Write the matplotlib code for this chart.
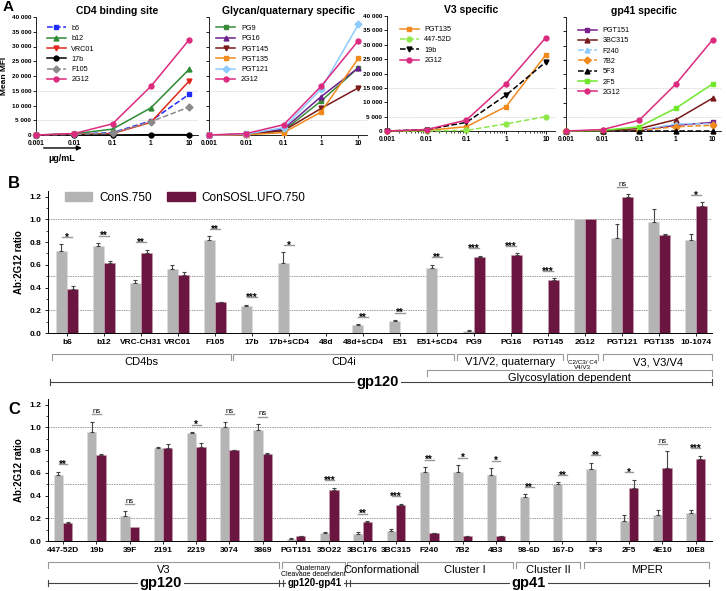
import matplotlib
matplotlib.use('Agg')
import matplotlib.pyplot as plt
import numpy as np
from matplotlib.patches import Patch
from matplotlib.transforms import blended_transform_factory

plt.rcParams['font.family'] = ['Liberation Sans', 'DejaVu Sans']

W, H = 726, 591

# ---------------- panel A data (mean MFI) ----------------
conc = [0.001, 0.01, 0.1, 1, 10]

cd4_names = ['b6', 'b12', 'VRC01', '17b', 'F105', '2G12']
cd4_vals = [[0, 300, 800, 4800, 13800],
            [0, 400, 2000, 9200, 22300],
            [0, 200, 500, 4300, 18300],
            [0, 0, 0, 100, 100],
            [0, 200, 600, 4500, 9500],
            [0, 500, 3800, 16500, 32300]]

gly_names = ['PG9', 'PG16', 'PGT145', 'PGT135', 'PGT121', '2G12']
gly_vals = [[0, 100, 1500, 11500, 22800],
            [0, 200, 2000, 13000, 22800],
            [0, 200, 1500, 9000, 16000],
            [0, 100, 800, 7800, 26000],
            [0, 300, 2500, 15500, 37500],
            [0, 500, 3500, 16500, 32000]]

v3_names = ['PGT135', '447-52D', '19b', '2G12']
v3_vals = [[0, 200, 1500, 8500, 26500],
           [0, 0, 200, 2500, 5000],
           [0, 500, 3000, 12500, 24000],
           [0, 500, 3800, 16500, 32500]]

gp41_names = ['PGT151', '3BC315', 'F240', '7B2', '5F3', '2F5', '2G12']
gp41_vals = [[0, 100, 200, 2000, 3000],
             [0, 200, 800, 4000, 11500],
             [0, 0, 200, 2500, 2500],
             [0, 0, 200, 1500, 2000],
             [0, 0, 0, 0, 0],
             [0, 200, 1500, 8000, 16500],
             [0, 500, 3800, 16500, 32000]]

# ---------------- panel B data ----------------
b_labels = ['b6', 'b12', 'VRC-CH31', 'VRC01', 'F105', '17b', '17b+sCD4', '48d',
            '48d+sCD4', 'E51', 'E51+sCD4', 'PG9', 'PG16', 'PGT145', '2G12',
            'PGT121', 'PGT135', '10-1074']
b_cons = [0.72, 0.77, 0.44, 0.56, 0.82, 0.24, 0.62, 0, 0.07, 0.11, 0.57, 0.02,
          0, 0, 1.0, 0.84, 0.98, 0.82]
b_cons_err = [0.06, 0.02, 0.03, 0.04, 0.03, 0.01, 0.09, 0, 0.005, 0.005, 0.03,
              0.01, 0, 0, 0, 0.12, 0.11, 0.05]
b_ufo = [0.39, 0.62, 0.70, 0.51, 0.27, 0, 0, 0, 0, 0, 0, 0.67, 0.69, 0.47, 1.0,
         1.2, 0.86, 1.12]
b_ufo_err = [0.02, 0.015, 0.035, 0.03, 0.005, 0, 0, 0, 0, 0, 0, 0.01, 0.01,
             0.01, 0, 0.02, 0.015, 0.03]
b_sig = ['*', '**', '**', '', '**', '***', '*', '', '**', '**', '**', '***',
         '***', '***', '', 'ns', '', '*']

# ---------------- panel C data ----------------
c_labels = ['447-52D', '19b', '39F', '2191', '2219', '3074', '3869', 'PGT151',
            '35O22', '3BC176', '3BC315', 'F240', '7B2', '4B3', '98-6D', '167-D',
            '5F3', '2F5', '4E10', '10E8']
c_cons = [0.58, 0.96, 0.22, 0.82, 0.95, 1.0, 0.98, 0.02, 0.07, 0.06, 0.09,
          0.61, 0.61, 0.58, 0.39, 0.50, 0.63, 0.18, 0.23, 0.25]
c_cons_err = [0.03, 0.09, 0.04, 0.005, 0.01, 0.05, 0.05, 0.01, 0.005, 0.015,
              0.015, 0.04, 0.06, 0.06, 0.02, 0.015, 0.06, 0.05, 0.04, 0.02]
c_ufo = [0.16, 0.76, 0.12, 0.82, 0.83, 0.80, 0.77, 0.04, 0.45, 0.17, 0.32,
         0.07, 0.04, 0.04, 0, 0, 0, 0.47, 0.64, 0.72]
c_ufo_err = [0.005, 0.005, 0, 0.03, 0.03, 0.005, 0.005, 0.005, 0.02, 0.005,
             0.01, 0.003, 0.003, 0.003, 0, 0, 0, 0.07, 0.15, 0.03]
c_sig = ['**', 'ns', 'ns', '', '*', 'ns', 'ns', '', '***', '**', '***', '**',
         '*', '*', '**', '**', '**', '*', 'ns', '***']

PINK = '#dc2a7f'
style = {
    'b6': ('#1f2cff', 's', '--'), 'b12': ('#2f8a36', '^', '-'),
    'VRC01': ('#e0281e', 'v', '-'), '17b': ('#000000', 'o', '-'),
    'F105': ('#8a8a8a', 'D', '--'), '2G12': (PINK, 'o', '-'),
    'PG9': ('#3a8a3a', 's', '-'), 'PG16': ('#6a1f8c', '^', '-'),
    'PGT145': ('#7a1a1a', 'v', '-'), 'PGT135': ('#f08a1c', 's', '-'),
    'PGT121': ('#8ecbff', 'D', '-'), '447-52D': ('#8fe84a', 'o', '--'),
    '19b': ('#000000', 'v', '--'), 'PGT151': ('#7a1f8c', 's', '-'),
    '3BC315': ('#7a1a1a', '^', '-'), 'F240': ('#8ecbff', '^', '--'),
    '7B2': ('#f08a1c', 'D', '--'), '5F3': ('#000000', '^', '--'),
    '2F5': ('#6fe82a', 's', '-'),
}

GRAY = '#b4b4b4'
MAROON = '#6b1541'

fig = plt.figure(figsize=(W / 100, H / 100), dpi=100)


def px_axes(l, t, r, b):
    return fig.add_axes([l / W, 1 - b / H, (r - l) / W, (b - t) / H])


def fmt_k(v, pos=None):
    return f'{int(v):,}'.replace(',', ' ')


def panel_a(ax, title, names, vals, ylabels, leg_anchor):
    for n, v in zip(names, vals):
        c, m, ls = style[n]
        ax.plot(conc, v, color=c, marker=m, ls=ls, lw=1.1, ms=3.5, label=n,
                clip_on=False, zorder=3)
    ax.set_xscale('log')
    ax.set_xlim(0.001, 17)
    ax.set_ylim(0, 40000)
    ax.set_yticks(np.arange(0, 40001, 5000))
    for yv in [5000, 15000]:
        ax.axhline(yv, color='#cccccc', lw=0.6, ls=(0, (1, 1)), zorder=0)
    ax.set_xticks(conc)
    ax.set_xticklabels(['0.001', '0.01', '0.1', '1', '10'], fontsize=4.8,
                       fontweight='bold')
    if ylabels:
        ax.yaxis.set_major_formatter(plt.FuncFormatter(fmt_k))
        for t in ax.get_yticklabels():
            t.set_fontsize(4.6)
            t.set_fontweight('bold')
    else:
        ax.set_yticklabels([])
    ax.tick_params(length=2, width=0.6, pad=1.5)
    ax.tick_params(which='minor', length=1.2, width=0.5)
    for s in ['top', 'right']:
        ax.spines[s].set_visible(False)
    for s in ['left', 'bottom']:
        ax.spines[s].set_linewidth(0.6)
    ax.set_title(title, fontsize=7.5, fontweight='bold', pad=2.5)
    ax.legend(loc='upper left', bbox_to_anchor=leg_anchor, frameon=False,
              fontsize=5.2, handlelength=2.6, labelspacing=0.45,
              borderaxespad=0.2)


ax1 = px_axes(36, 17, 198, 135)
ax2 = px_axes(209, 17, 367, 135)
ax3 = px_axes(387, 16, 555, 131)
ax4 = px_axes(566, 17, 721, 131)
panel_a(ax1, 'CD4 binding site', cd4_names, cd4_vals, True, (0.04, 0.97))
panel_a(ax2, 'Glycan/quaternary specific', gly_names, gly_vals, False, (0.02, 0.97))
panel_a(ax3, 'V3 specific', v3_names, v3_vals, True, (0.05, 0.95))
panel_a(ax4, 'gp41 specific', gp41_names, gp41_vals, False, (0.05, 0.95))
ax1.set_ylabel('Mean MFI', fontsize=6, fontweight='bold')
ax1.yaxis.set_label_coords(-0.17, 0.5)
ax1.annotate('', xy=(0.3, -0.11), xytext=(0.03, -0.11),
             xycoords='axes fraction',
             arrowprops=dict(arrowstyle='-|>', color='black', lw=1.0,
                             mutation_scale=7), annotation_clip=False)
ax1.text(0.16, -0.2, 'µg/mL', transform=ax1.transAxes, ha='center',
         va='center', fontsize=6.5, fontweight='bold')


def panel_bar(ax, labels, cons, cons_err, ufo, ufo_err, sig, width):
    x = np.arange(len(labels))
    ax.bar(x - width / 2, cons, width, color=GRAY, edgecolor='#dddddd',
           lw=0.4, zorder=2)
    ax.bar(x + width / 2, ufo, width, color=MAROON, edgecolor='#c9a0b4',
           lw=0.4, zorder=2)
    for xs, v, e in [(x - width / 2, cons, cons_err), (x + width / 2, ufo, ufo_err)]:
        v = np.array(v)
        e = np.array(e)
        keep = e > 0
        ax.errorbar(xs[keep], v[keep], yerr=[np.zeros(keep.sum()), e[keep]],
                    fmt='none', ecolor='#444444', elinewidth=0.8, capsize=1.5,
                    capthick=0.8, zorder=3)
    for yv in [0.2, 0.5, 1.0]:
        ax.axhline(yv, color='#999999', lw=0.7, ls=(0, (1.5, 1)), zorder=0)
    for i, s in enumerate(sig):
        if not s:
            continue
        top = max(cons[i] + cons_err[i], ufo[i] + ufo_err[i])
        y = top + 0.065
        ax.plot([i - 0.13, i + 0.13], [y, y], color='#999999', lw=1.0,
                clip_on=False, zorder=4)
        if s == 'ns':
            ax.text(i, y + 0.012, s, ha='center', va='baseline', fontsize=5.5,
                    clip_on=False)
        else:
            ax.text(i, y - 0.03, s, ha='center', va='baseline', fontsize=7,
                    fontweight='bold', clip_on=False)
    ax.set_xticks(x)
    ax.set_xticklabels(labels, fontsize=6, fontweight='bold')
    ax.set_ylim(0, 1.25)
    ax.set_yticks(np.arange(0, 1.21, 0.2))
    ax.set_yticks(np.arange(0.1, 1.21, 0.2), minor=True)
    ax.set_yticklabels([f'{v:.1f}' for v in np.arange(0, 1.21, 0.2)],
                       fontsize=6, fontweight='bold')
    ax.tick_params(length=2.5, width=0.6, pad=2)
    ax.tick_params(which='minor', length=1.5, width=0.5)
    for s in ['top', 'right']:
        ax.spines[s].set_visible(False)
    for s in ['left', 'bottom']:
        ax.spines[s].set_linewidth(0.7)
    ax.set_ylabel('Ab:2G12 ratio', fontsize=7, fontweight='bold', labelpad=4)


def bracket(ax, x0, x1, y, label, ly, fs=8, tick=0.04):
    tr = blended_transform_factory(ax.transData, ax.transAxes)
    ax.plot([x0, x0, x1, x1], [y - tick, y, y, y - tick], transform=tr,
            color='#999999', lw=0.8, clip_on=False)
    if label:
        ax.text((x0 + x1) / 2, ly, label, transform=tr, ha='center',
                va='center', fontsize=fs, clip_on=False, linespacing=0.9)


# panel B
axB = px_axes(48, 191, 712, 333)
panel_bar(axB, b_labels, b_cons, b_cons_err, b_ufo, b_ufo_err, b_sig, 0.3)
axB.legend(handles=[Patch(color=GRAY), Patch(color=MAROON)],
           labels=['ConS.750', 'ConSOSL.UFO.750'], ncol=2, loc='upper left',
           bbox_to_anchor=(0.01, 1.07), frameon=False, fontsize=8.5,
           handlelength=2.3, handleheight=0.8, columnspacing=1.3,
           handletextpad=0.6)
bracket(axB, -0.41, 4.43, -0.15, 'CD4bs', -0.205)
bracket(axB, 4.49, 10.46, -0.15, 'CD4i', -0.205)
bracket(axB, 10.54, 13.4, -0.15, 'V1/V2, quaternary', -0.205)
bracket(axB, 13.51, 14.35, -0.15, 'C2/C3/ C4\nV4/V3', -0.225, fs=4.5)
bracket(axB, 14.49, 17.43, -0.15, 'V3, V3/V4', -0.205)
bracket(axB, 9.73, 17.43, -0.262, 'Glycosylation dependent', -0.315)
trB = blended_transform_factory(axB.transData, axB.transAxes)
axB.plot([-0.45, 17.43], [-0.345, -0.345], transform=trB, color='#444444',
         lw=0.8, clip_on=False)
for xv in [-0.45, 17.43]:
    axB.plot([xv, xv], [-0.325, -0.365], transform=trB, color='#444444',
             lw=0.8, clip_on=False)
axB.text(8.4, -0.345, 'gp120', transform=trB, ha='center', va='center',
         fontsize=10.5, fontweight='bold', clip_on=False,
         bbox=dict(facecolor='white', edgecolor='none', pad=1.5))
axB.set_xlim(-0.514, 17.43)

# panel C
axC = px_axes(48, 399, 712, 541)
panel_bar(axC, c_labels, c_cons, c_cons_err, c_ufo, c_ufo_err, c_sig, 0.28)
bracket(axC, -0.45, 6.49, -0.15, 'V3', -0.205)
bracket(axC, 6.58, 8.47, -0.15, 'Quaternary\nCleavage dependent', -0.215, fs=5)
bracket(axC, 8.53, 10.57, -0.15, 'Conformational', -0.205)
bracket(axC, 10.63, 13.51, -0.15, 'Cluster I', -0.205)
bracket(axC, 13.6, 15.53, -0.15, 'Cluster II', -0.205)
bracket(axC, 15.65, 19.4, -0.15, 'MPER', -0.205)
trC = blended_transform_factory(axC.transData, axC.transAxes)
axC.plot([-0.45, 19.4], [-0.296, -0.296], transform=trC, color='#444444',
         lw=0.8, clip_on=False)
for xv in [-0.45, 6.5, 6.62, 8.5, 8.62, 19.4]:
    axC.plot([xv, xv], [-0.276, -0.316], transform=trC, color='#444444',
             lw=0.8, clip_on=False)
for xv, lab, fs in [(2.94, 'gp120', 10.5), (7.56, 'gp120-gp41', 7),
                    (13.99, 'gp41', 10.5)]:
    axC.text(xv, -0.296, lab, transform=trC, ha='center', va='center',
             fontsize=fs, fontweight='bold', clip_on=False,
             bbox=dict(facecolor='white', edgecolor='none', pad=1.5))
axC.set_xlim(-0.45, 19.49)

# panel letters
fig.text(3 / W, 1 - 7 / H, 'A', fontsize=11, fontweight='bold', va='center')
fig.text(8 / W, 1 - 184 / H, 'B', fontsize=12, fontweight='bold', va='center')
fig.text(8 / W, 1 - 410 / H, 'C', fontsize=12, fontweight='bold', va='center')

fig.savefig('out.png', dpi=100)
